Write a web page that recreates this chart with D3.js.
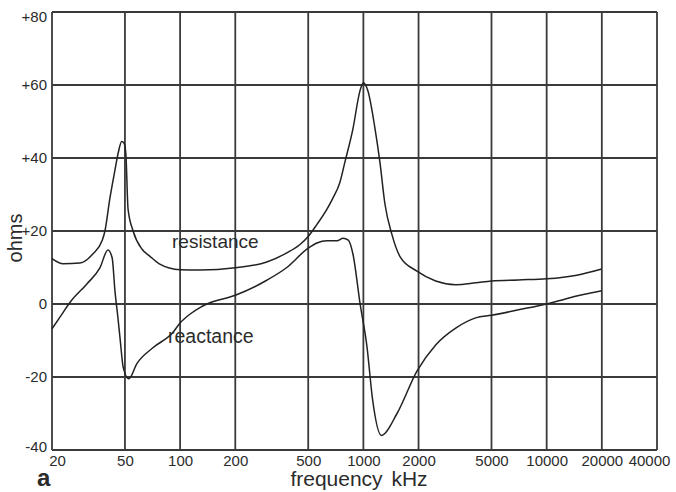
<!DOCTYPE html>
<html>
<head>
<meta charset="utf-8">
<script src="https://cdn.jsdelivr.net/npm/d3@7"></script>
<style>
  body { margin: 0; background: #fff; }
  svg { display: block; font-family: "Liberation Sans", Arial, sans-serif; }
</style>
</head>
<body>
<svg class="chart" width="676" height="492"></svg>
<script>
// frequency ticks (kHz) and ohm ticks
var xTicks = [20, 50, 100, 200, 500, 1000, 2000, 5000, 10000, 20000, 40000];
var yTicks = [-40, -20, 0, 20, 40, 60, 80];

// resistance curve
var resFreq = [20, 23, 28.4, 33.4, 37.5, 38.9, 41.4, 44, 46, 48, 49.5, 50.6, 52, 55.4, 62, 68, 77, 100, 129,
               200, 297, 382, 451, 500, 558, 633, 682, 741, 794, 877, 958, 1000, 1058, 1156, 1230, 1311,
               1432, 1584, 1960, 2480, 3190, 4100, 5000, 7000, 10000, 14600, 20000];
var resOhms = [12.4, 11.0, 11.2, 13.7, 17.3, 20, 29, 36.4, 41.5, 44.5, 44, 41, 26, 20, 15, 13.2, 11, 9.4, 9.3,
               9.9, 11.5, 14, 16.3, 18.5, 21.8, 26, 29, 33, 39, 48, 58.4, 60.6, 58.4, 48.2, 39, 27.4,
               19, 13, 9, 6.3, 5.3, 5.8, 6.3, 6.6, 6.9, 7.9, 9.6];

// reactance curve
var reaFreq = [20, 22.1, 25.4, 31, 36.5, 40.4, 42.6, 44.1, 45.8, 47, 49, 52.5, 58, 71, 91, 100, 113, 129, 140,
               200, 297, 382, 500, 558, 633, 718, 774, 827, 877, 960, 1048, 1120, 1253, 1526, 1960,
               2480, 3190, 4100, 5000, 7020, 10000, 13100, 20000];
var reaOhms = [-6.8, -3.6, 0.8, 5.5, 9.9, 14.8, 12.6, 3.6, -3.8, -9.3, -17.5, -20.5, -16.4, -12, -7.9, -5.2, -2.8, -0.9, 0,
               2.4, 6.5, 10, 15.3, 16.7, 17.3, 17.3, 18, 17.5, 13.7, 0, -12, -25.8, -36, -30, -18.4,
               -11.2, -6.6, -3.8, -3.1, -1.6, 0, 1.6, 3.6];

draw_chart();

function draw_chart(){

    var svg = d3.select("svg.chart");
    var pLeft = 52, pRight = 657, pTop = 12, pBottom = 450;
    var ink = "#2b2b2b";

    var x = d3.scaleLog().domain([20, 40000]).range([pLeft, pRight]);
    var y = d3.scaleLinear().domain([-40, 80]).range([pBottom, pTop]);

    //grid lines and frame
    var grid = svg.append("g").attr("stroke", "#3a3a3a").attr("stroke-width", 1.8);
    grid.selectAll("line.v")
        .data(xTicks)
        .enter()
        .append("line")
            .attr("x1", d => x(d)).attr("x2", d => x(d))
            .attr("y1", pTop).attr("y2", pBottom);
    grid.selectAll("line.h")
        .data(yTicks)
        .enter()
        .append("line")
            .attr("x1", pLeft).attr("x2", pRight)
            .attr("y1", d => y(d)).attr("y2", d => y(d));

    // tick labels through d3 axes, domain path and tick lines removed
    var xAxis = svg.append("g")
        .attr("transform", `translate(0,${pBottom})`)
        .call(d3.axisBottom(x).tickValues(xTicks).tickFormat(d3.format("d")).tickSize(0).tickPadding(5));
    var yAxis = svg.append("g")
        .attr("transform", `translate(${pLeft},0)`)
        .call(d3.axisLeft(y).tickValues(yTicks).tickSize(0).tickPadding(5)
            .tickFormat(d => d > 0 ? "+" + d : d));

    [xAxis, yAxis].forEach(a => {
        a.select(".domain").remove();
        a.selectAll("text").attr("fill", ink).style("font-size", "15px")
            .style("font-family", "'Liberation Sans', Arial, sans-serif");
    });
    // edge labels sit a little inside like the original
    xAxis.selectAll("text").attr("dx", d => d == 20 ? 5 : d == 40000 ? -8 : 0);
    yAxis.selectAll("text").attr("dy", d => d == 80 ? "0.62em" : d == -40 ? "0.1em" : "0.32em");

    //curves
    var line = d3.line()
        .x(d => x(d[0]))
        .y(d => y(d[1]))
        .curve(d3.curveMonotoneX);

    svg.append("path")
        .datum(d3.zip(resFreq, resOhms))
        .attr("d", line)
        .attr("fill", "none").attr("stroke", "#222").attr("stroke-width", 1.5);
    svg.append("path")
        .datum(d3.zip(reaFreq, reaOhms))
        .attr("d", line)
        .attr("fill", "none").attr("stroke", "#222").attr("stroke-width", 1.5);

    // labels
    svg.append("text").attr("x", 172).attr("y", 248)
        .style("font-size", "19px").attr("fill", ink).text("resistance");
    svg.append("text").attr("x", 168).attr("y", 343)
        .style("font-size", "19.5px").attr("fill", ink).text("reactance");
    svg.append("text")
        .attr("transform", "translate(22,238) rotate(-90)")
        .style("text-anchor", "middle").style("font-size", "20px").attr("fill", ink).text("ohms");
    svg.append("text").attr("x", 359).attr("y", 486)
        .style("text-anchor", "middle").style("font-size", "21px").style("word-spacing", "3px")
        .attr("fill", ink).text("frequency kHz");
    svg.append("text").attr("x", 37).attr("y", 486)
        .style("font-size", "24px").style("font-weight", "bold").attr("fill", ink).text("a");
}
</script>
</body>
</html>
